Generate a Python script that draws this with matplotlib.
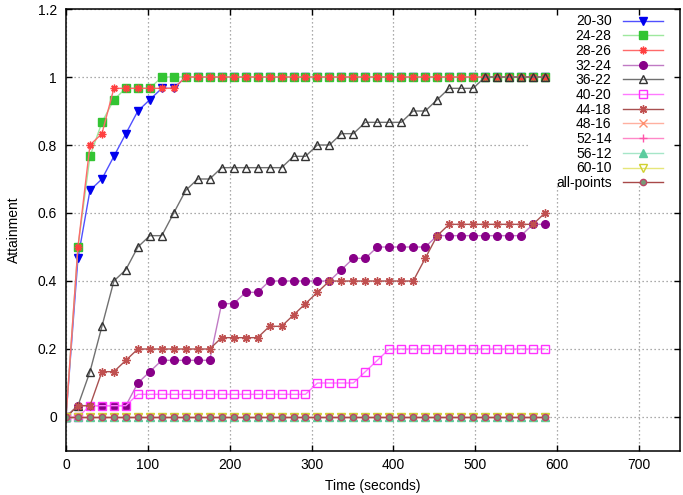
import numpy as np
import matplotlib
matplotlib.use("Agg")
import matplotlib.pyplot as plt
from matplotlib.patches import Rectangle

plt.rcParams['font.family'] = ['Liberation Sans', 'DejaVu Sans']
plt.rcParams['font.size'] = 10

# sample times (seconds)
time_s = [0, 14.6, 29.3, 43.9, 58.5, 73.1, 87.8, 102.4, 117.0, 131.6, 146.3,
          160.9, 175.5, 190.1, 204.8, 219.4, 234.0, 248.6, 263.3, 277.9, 292.5,
          307.1, 321.8, 336.4, 351.0, 365.6, 380.3, 394.9, 409.5, 424.1, 438.8,
          453.4, 468.0, 482.6, 497.3, 511.9, 526.5, 541.1, 555.8, 570.4, 585.0]

# number of successful runs out of 30 at each sample time
n_runs = 30
r_20_30 = [0, 14, 20, 21, 23, 25, 27, 28, 29, 29] + [30] * 31
r_24_28 = [0, 15, 23, 26, 28, 29, 29, 29] + [30] * 33
r_28_26 = [0, 15, 24, 25, 29, 29, 29, 29, 29, 29] + [30] * 31
r_32_24 = [0, 1, 1, 1, 1, 1, 3, 4, 5, 5, 5, 5, 5, 10, 10, 11, 11, 12, 12, 12,
           12, 12, 12, 13, 14, 14, 15, 15, 15, 15, 15, 16, 16, 16, 16, 16, 16,
           16, 16, 17, 17]
r_36_22 = [0, 1, 4, 8, 12, 13, 15, 16, 16, 18, 20, 21, 21, 22, 22, 22, 22, 22,
           22, 23, 23, 24, 24, 25, 25, 26, 26, 26, 26, 27, 27, 28, 29, 29, 29,
           30, 30, 30, 30, 30, 30]
r_40_20 = [0, 0, 1, 1, 1, 1, 2, 2, 2, 2, 2, 2, 2, 2, 2, 2, 2, 2, 2, 2, 2, 3, 3,
           3, 3, 4, 5, 6, 6, 6, 6, 6, 6, 6, 6, 6, 6, 6, 6, 6, 6]
r_44_18 = [0, 1, 1, 4, 4, 5, 6, 6, 6, 6, 6, 6, 6, 7, 7, 7, 7, 8, 8, 9, 10, 11,
           12, 12, 12, 12, 12, 12, 12, 12, 14, 16, 17, 17, 17, 17, 17, 17, 17,
           17, 18]
r_48_16 = [0] * 41
r_52_14 = [0] * 41
r_56_12 = [0] * 41
r_60_10 = [0] * 41
r_all = [0] * 41

labels = ['20-30', '24-28', '28-26', '32-24', '36-22', '40-20', '44-18',
          '48-16', '52-14', '56-12', '60-10', 'all-points']
runs = [r_20_30, r_24_28, r_28_26, r_32_24, r_36_22, r_40_20, r_44_18,
        r_48_16, r_52_14, r_56_12, r_60_10, r_all]

x_ticks = [0, 100, 200, 300, 400, 500, 600, 700]
y_ticks = [0, 0.2, 0.4, 0.6, 0.8, 1.0, 1.2]
y_tick_labels = ['0', '0.2', '0.4', '0.6', '0.8', '1', '1.2']

# (line colour, marker, marker face, marker edge, marker size)
styles = [
    ('#5050ff', 'v', '#0000ee', '#0000ee', 5.5),
    ('#9ee89e', 's', '#33c433', '#33c433', 5.5),
    ('#ff6a6a', (8, 2, 0), '#ff1010', '#ff4040', 5.5),
    ('#c07ac4', 'o', '#880088', '#880088', 5.5),
    ('#707070', '^', 'none', '#333333', 5.5),
    ('#ff7aff', 's', 'none', '#ff33ff', 5.5),
    ('#a85050', (8, 2, 0), '#8b0000', '#c05050', 6),
    ('#ffb0a0', 'x', '#ff9070', '#ff9070', 6),
    ('#ff88c8', '+', '#ff55aa', '#ff55aa', 6),
    ('#a6e6c8', '^', '#5ccc9e', '#5ccc9e', 5.5),
    ('#e6e67a', 'v', 'none', '#d0d030', 5.5),
    ('#a84848', 'o', '#779977', '#bb4466', 4.5),
]

fig = plt.figure(figsize=(6.83, 4.95), dpi=100)
ax = fig.add_axes([66 / 683, 44 / 495, 614 / 683, 442 / 495])

t = np.array(time_s)
for lab, r, (lc, mk, mf, me, ms) in zip(labels, runs, styles):
    ax.plot(t, np.array(r) / n_runs, color=lc, lw=1.0, marker=mk,
            markerfacecolor=mf, markeredgecolor=me, markersize=ms,
            markeredgewidth=1.0, label=lab, zorder=2)

# dotted grid, hidden behind the key area
for xv in x_ticks:
    ax.axvline(xv, ls=(0, (1, 2.2)), color='#909090', lw=0.9, zorder=1)
for yv in y_ticks:
    ax.axhline(yv, ls=(0, (1, 2.2)), color='#909090', lw=0.9, zorder=1)
ax.add_patch(Rectangle((0.756, 0.606), 0.244, 0.394, transform=ax.transAxes,
                       facecolor='white', edgecolor='none', zorder=1.5))

ax.set_xlim(0, 750)
ax.set_ylim(-0.1, 1.2)
ax.set_xticks(x_ticks)
ax.set_yticks(y_ticks)
ax.set_yticklabels(y_tick_labels)
ax.tick_params(direction='in', length=4.5, width=1, top=True, right=True)
ax.tick_params(axis='x', pad=5)
ax.tick_params(axis='y', pad=6.5)
for sp in ax.spines.values():
    sp.set_linewidth(1.1)
    sp.set_color('black')

ax.set_xlabel('Time (seconds)', labelpad=5)
ax.set_ylabel('Attainment', labelpad=12)

leg = ax.legend(loc='upper right', bbox_to_anchor=(0.9723, 0.9876),
                frameon=False, markerfirst=False, handlelength=2.9,
                handletextpad=0.8, labelspacing=0.05, borderpad=0,
                borderaxespad=0, numpoints=1)
leg.set_zorder(5)

fig.savefig('out.png', dpi=100)
